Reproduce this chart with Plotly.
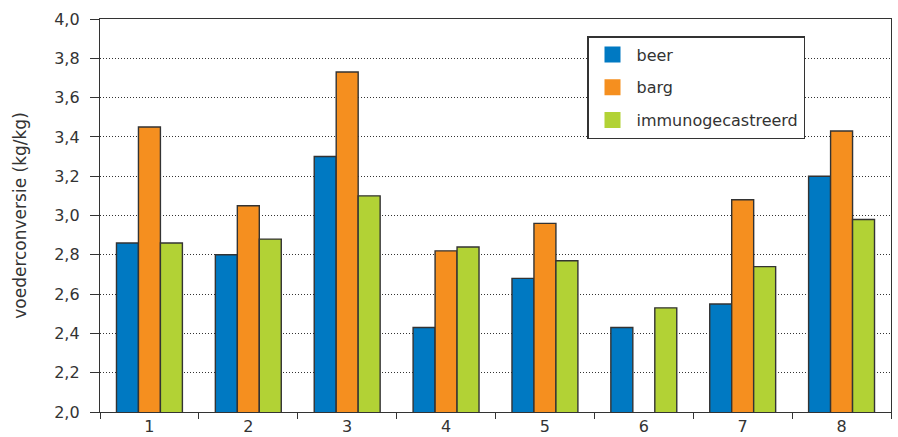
import plotly.graph_objects as go

categories = ["1", "2", "3", "4", "5", "6", "7", "8"]
beer = [2.86, 2.80, 3.30, 2.43, 2.68, 2.43, 2.55, 3.20]
barg = [3.45, 3.05, 3.73, 2.82, 2.96, None, 3.08, 3.43]
immuno = [2.86, 2.88, 3.10, 2.84, 2.77, 2.53, 2.74, 2.98]
y_ticks = [2.0, 2.2, 2.4, 2.6, 2.8, 3.0, 3.2, 3.4, 3.6, 3.8, 4.0]

series_names = ["beer", "barg", "immunogecastreerd"]
series_values = [beer, barg, immuno]
series_colors = ["#0079C2", "#F58F1F", "#B2D235"]

font_family = "DejaVu Sans, sans-serif"
text_color = "#333333"

fig = go.Figure()
for name, vals, color in zip(series_names, series_values, series_colors):
    fig.add_trace(go.Bar(
        x=categories, y=vals, name=name,
        marker=dict(color=color, line=dict(color="#333333", width=1.4)),
        legendgroup=name, showlegend=False,
    ))
# legend entries (square swatches without outline, as in the reference)
for name, color in zip(series_names, series_colors):
    fig.add_trace(go.Scatter(
        x=[None], y=[None], name=name, mode="markers",
        marker=dict(symbol="square", size=16, color=color, line=dict(width=0)),
        legendgroup=name, showlegend=True, hoverinfo="skip",
    ))

fig.update_layout(
    width=898, height=437,
    margin=dict(l=100, r=7, t=19, b=25),
    paper_bgcolor="white", plot_bgcolor="white",
    barmode="group", bargap=1/3, bargroupgap=0,
    separators=", ",
    font=dict(family=font_family, size=16, color=text_color),
    legend=dict(
        x=(587 - 100) / 791, y=(412 - 36) / 393, xanchor="left", yanchor="top",
        bgcolor="white", bordercolor="#333333", borderwidth=1.5,
        font=dict(size=16, color=text_color),
        traceorder="grouped", tracegroupgap=9,
        itemwidth=38, itemsizing="trace",
    ),
    showlegend=True,
)
fig.update_xaxes(
    type="category", tickson="boundaries",
    ticks="outside", ticklen=6, tickcolor="#333333", tickwidth=1,
    showline=True, linecolor="#333333", linewidth=1.3, mirror=True,
    showgrid=False, tickfont=dict(size=16), automargin=False,
)
fig.update_yaxes(
    range=[2.0, 4.0], tickvals=y_ticks, tickformat=".1f",
    ticks="outside", ticklen=9, tickcolor="#333333", tickwidth=1,
    ticklabelstandoff=7,
    showline=True, linecolor="#333333", linewidth=1.3, mirror=True,
    showgrid=True, gridcolor="#333333", gridwidth=1, griddash="1px,2px",
    tickfont=dict(size=16),
    title=dict(text="voederconversie (kg/kg)", font=dict(size=17), standoff=23),
    zeroline=False, automargin=False,
)

fig.write_html("out.html")
